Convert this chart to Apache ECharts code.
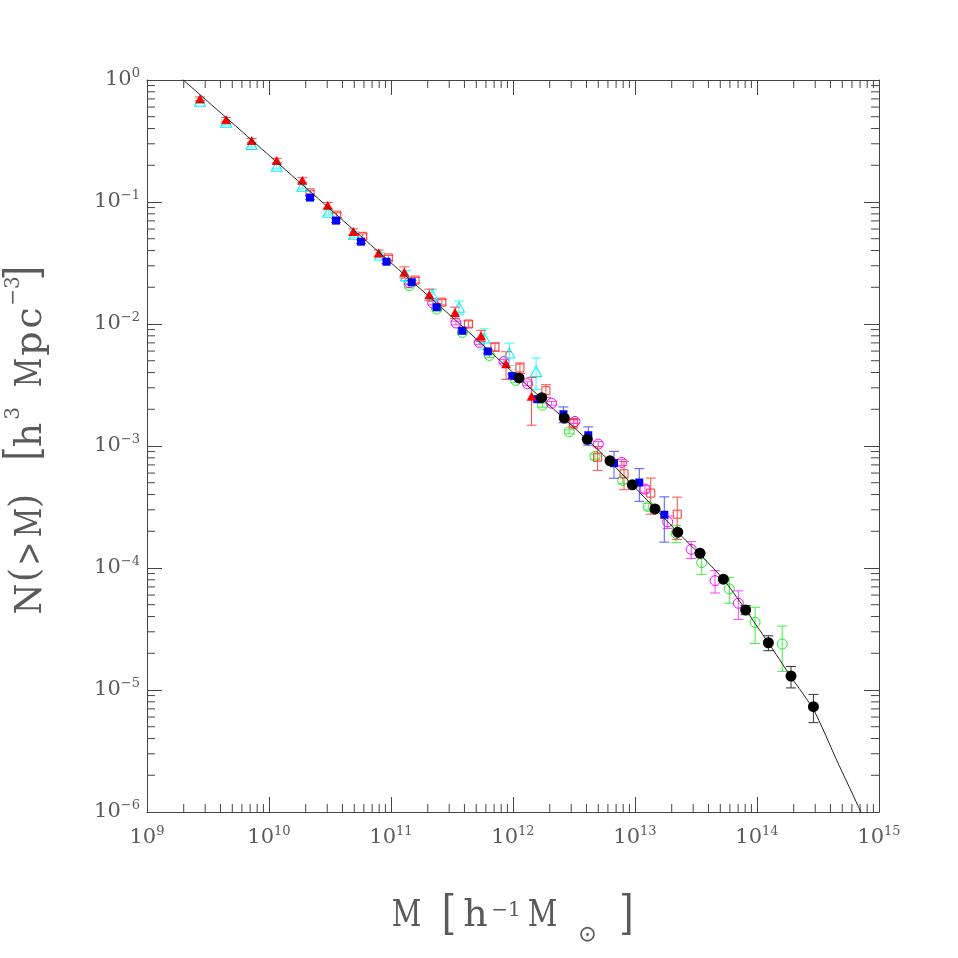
<!DOCTYPE html>
<html><head><meta charset="utf-8">
<script src="https://cdn.jsdelivr.net/npm/echarts@6/dist/echarts.min.js"></script>
<style>html,body{margin:0;padding:0;background:#fff}#c{width:958px;height:958px}</style>
</head><body><div id="c"></div>
<script>
// ---- tick labels (exponents of 10) ----
const xTickExps = [9, 10, 11, 12, 13, 14, 15];
const yTickExps = [0, -1, -2, -3, -4, -5, -6];

// ---- red filled triangles ----
const redTriM = [2.72e9, 4.45e9, 7.21e9, 1.157e10, 1.875e10, 3.03e10, 4.91e10, 7.93e10, 1.285e11, 2.06e11, 3.35e11, 5.47e11, 8.77e11, 1.42e12];
const redTriN = [0.701, 0.474, 0.319, 0.219, 0.151, 0.094, 0.0572, 0.0382, 0.0266, 0.0174, 0.0124, 0.00802, 0.00472, 0.00256];
const redTriE = [0.025, 0.018, 0.013, 0.009, 0.007, 0.005, 0.003, 0.0022, 0.0028, 0.0019, 0.00135, 0.00085, 0.0012, 0.00108];

// ---- cyan open triangles ----
const cyanTriM = [2.72e9, 4.45e9, 7.21e9, 1.157e10, 1.875e10, 3.06e10, 4.98e10, 8.13e10, 1.327e11, 2.18e11, 3.61e11, 5.82e11, 9.33e11, 1.545e12];
const cyanTriN = [0.670, 0.451, 0.296, 0.196, 0.1345, 0.0823, 0.0540, 0.0367, 0.0249, 0.0174, 0.0137, 0.00767, 0.00578, 0.00408];
const cyanTriE = [0.03, 0.02, 0.013, 0.009, 0.006, 0.004, 0.003, 0.002, 0.0025, 0.0019, 0.0017, 0.00145, 0.0012, 0.00118];

// ---- blue filled squares ----
const blueSqM = [2.17e10, 3.54e10, 5.68e10, 9.18e10, 1.479e11, 2.37e11, 3.84e11, 6.21e11, 9.86e11, 1.582e12, 2.59e12, 4.14e12, 6.73e12, 1.084e13, 1.738e13];
const blueSqN = [0.1087, 0.0704, 0.0473, 0.0324, 0.0220, 0.01374, 0.00881, 0.00596, 0.00374, 0.00242, 0.00182, 0.001225, 0.000724, 0.000502, 0.000273];
const blueSqE = [0.004, 0.0025, 0.0016, 0.0011, 0.0008, 0.0005, 0.00035, 0.0002, 0.00015, 0.00012, 0.00027, 0.00021, 0.00018, 0.00015, 0.00011];

// ---- red open squares ----
const redSqM = [2.17e10, 3.59e10, 5.86e10, 9.51e10, 1.573e11, 2.61e11, 4.31e11, 7.11e11, 1.14e12, 1.862e12, 3.12e12, 4.94e12, 8.13e12, 1.346e13, 2.22e13];
const redSqN = [0.1188, 0.0781, 0.0523, 0.0348, 0.0229, 0.0151, 0.0100, 0.00648, 0.00436, 0.00284, 0.00154, 0.000811, 0.000592, 0.000411, 0.000276];
const redSqE = [0.005, 0.0035, 0.0025, 0.0017, 0.0012, 0.0008, 0.0006, 0.0005, 0.00043, 0.00034, 0.00014, 0.00018, 0.000154, 0.000135, 0.000105];

// ---- magenta open circles ----
const magCircM = [1.406e11, 2.20e11, 3.41e11, 5.30e11, 8.43e11, 1.315e12, 2.07e12, 3.22e12, 5.00e12, 7.78e12, 1.208e13, 1.854e13, 2.89e13, 4.53e13, 7.03e13];
const magCircN = [0.0218, 0.01486, 0.01019, 0.00706, 0.00493, 0.00324, 0.00224, 0.001589, 0.001037, 0.000733, 0.000443, 0.000239, 0.0001422, 0.0000788, 0.0000514];
const magCircE = [0.0008, 0.0005, 0.00035, 0.00025, 0.00018, 0.00012, 0.00008, 0.00006, 0.00005, 0.00004, 0.00003, 0.000028, 0.0000225, 0.0000164, 0.0000135];

// ---- green open circles ----
const greenCircM = [1.406e11, 2.37e11, 3.84e11, 6.40e11, 1.052e12, 1.746e12, 2.89e12, 4.70e12, 7.93e12, 1.285e13, 2.17e13, 3.52e13, 5.93e13, 9.64e13, 1.61e14];
const greenCircN = [0.0206, 0.01327, 0.00853, 0.00552, 0.00345, 0.00216, 0.001307, 0.000820, 0.000521, 0.000319, 0.0001923, 0.0001107, 0.0000674, 0.0000359, 0.0000238];
const greenCircE = [0.0008, 0.0005, 0.0003, 0.0002, 0.00013, 0.00008, 0.00005, 0.00004, 0.00003, 0.00002, 0.000031, 0.000022, 0.000016, 0.0000118, 0.0000096];

// ---- black filled circles ----
const blackM = [1.12e12, 1.718e12, 2.63e12, 4.06e12, 6.24e12, 9.51e12, 1.459e13, 2.24e13, 3.41e13, 5.30e13, 8.07e13, 1.239e14, 1.90e14, 2.90e14];
const blackN = [0.00361, 0.00249, 0.001694, 0.001135, 0.000756, 0.000481, 0.000305, 0.0001966, 0.0001321, 0.0000809, 0.0000453, 0.0000244, 0.0000130, 0.0000073];
const blackE = [0.00008, 0.00005, 0.00004, 0.00003, 0.00002, 0.000013, 0.000009, 0.0000065, 0.0000045, 0.0000032, 0.0000039, 0.0000034, 0.0000026, 0.0000019];

// ---- fitted curve ----
const fitM = [1.862e9, 1.795e10, 6.32e10, 3.35e11, 1.12e12, 5.16e12, 2.24e13, 5.30e13, 1.239e14, 1.90e14, 2.92e14, 4.53e14, 7.10e14, 7.82e14];
const fitN = [1.058, 0.1443, 0.0476, 0.01084, 0.00361, 0.0009, 0.0001966, 0.0000809, 0.0000244, 0.0000128, 0.00000686, 0.00000262, 1.0e-6, 7.8e-7];

const FONT = 'DejaVu Serif';
const TXT = '#5a5a5a';
const AX = '#444';

const zip3 = (a, b, c) => a.map((v, i) => [v, b[i], c[i]]);
const zip2 = (a, b) => a.map((v, i) => [v, b[i]]);

function expLabel(exps) {
  return function (v) {
    const e = Math.round(Math.log10(v));
    if (exps.indexOf(e) < 0) return '';
    return '{b|10}{s|' + (e < 0 ? '\u2212' + (-e) : e) + '}';
  };
}
const tickRich = {
  b: { fontFamily: FONT, fontSize: 21, color: TXT, lineHeight: 26 },
  s: { fontFamily: FONT, fontSize: 13, color: TXT, lineHeight: 14, verticalAlign: 'top' }
};

function errSeries(data, color, z) {
  return {
    type: 'custom', data: data, z: z, silent: true, clip: false,
    encode: { x: 0, y: 1 },
    renderItem: function (params, api) {
      const x = api.value(0), y = api.value(1), s = api.value(2);
      const lo = api.coord([x, y - s]);
      const hi = api.coord([x, y + s]);
      const px = lo[0], w = 5;
      const st = { stroke: color, lineWidth: 1 };
      return {
        type: 'group', children: [
          { type: 'line', shape: { x1: px, y1: lo[1], x2: px, y2: hi[1] }, style: st },
          { type: 'line', shape: { x1: px - w, y1: lo[1], x2: px + w, y2: lo[1] }, style: st },
          { type: 'line', shape: { x1: px - w, y1: hi[1], x2: px + w, y2: hi[1] }, style: st }
        ]
      };
    }
  };
}
function markSeries(m, n, symbol, size, fill, border, z) {
  return {
    type: 'scatter', data: zip2(m, n), symbol: symbol, symbolSize: size, z: z, silent: true,
    itemStyle: { color: fill, borderColor: border, borderWidth: border ? 1 : 0, opacity: 1 }
  };
}

// minor tick positions (axis decoration)
const xMinor = [], yMinor = [];
for (let k = 9; k < 15; k++) for (let m = 2; m < 10; m++) xMinor.push([m * Math.pow(10, k), 1e-3]);
for (let k = -6; k < 0; k++) for (let m = 2; m < 10; m++) yMinor.push([1e12, m * Math.pow(10, k)]);

const minorX = {
  type: 'custom', data: xMinor, silent: true, clip: false, z: 1, encode: { x: 0, y: 1 },
  renderItem: function (params, api) {
    const cs = params.coordSys;
    const p = api.coord([api.value(0), api.value(1)])[0];
    const yb = cs.y + cs.height, yt = cs.y;
    const st = { stroke: AX, lineWidth: 1 };
    return { type: 'group', children: [
      { type: 'line', shape: { x1: p, y1: yb, x2: p, y2: yb - 8 }, style: st },
      { type: 'line', shape: { x1: p, y1: yt, x2: p, y2: yt + 8 }, style: st }
    ] };
  }
};
const minorY = {
  type: 'custom', data: yMinor, silent: true, clip: false, z: 1, encode: { x: 0, y: 1 },
  renderItem: function (params, api) {
    const cs = params.coordSys;
    const p = api.coord([api.value(0), api.value(1)])[1];
    const xl = cs.x, xr = cs.x + cs.width;
    const st = { stroke: AX, lineWidth: 1 };
    return { type: 'group', children: [
      { type: 'line', shape: { x1: xl, y1: p, x2: xl + 8, y2: p }, style: st },
      { type: 'line', shape: { x1: xr, y1: p, x2: xr - 8, y2: p }, style: st }
    ] };
  }
};

const axisCommon = {
  type: 'log', logBase: 10, splitNumber: 6,
  axisLine: { show: true, onZero: false, lineStyle: { color: AX, width: 1 } },
  axisTick: { show: true, inside: true, length: 15, lineStyle: { color: AX, width: 1 } },
  splitLine: { show: false }, minorTick: { show: false }, minorSplitLine: { show: false }
};

// ---- axis titles, one text piece per glyph group ----
function piece(text, x, y, size, sx, rot, family) {
  return {
    type: 'text', x: x, y: y, rotation: rot || 0, scaleX: sx || 1, silent: true,
    style: { text: text, fontFamily: family || FONT, fontSize: size, fill: TXT,
             textAlign: 'center', textVerticalAlign: 'middle' }
  };
}
const R = Math.PI / 2;
const titleGraphics = [
  // x title: M [h^-1 M_sun ]
  piece('M', 406.5, 916, 38, 0.76),
  piece('[', 449, 917, 46, 0.8),
  piece('h', 475.5, 916, 38, 1.0),
  piece('\u22121', 506, 911, 20, 1.0),
  piece('M', 542.5, 916, 38, 0.76),
  piece('\u2299', 587.5, 935, 22, 1.0, 0, 'DejaVu Sans'),
  piece(']', 626.5, 917, 46, 0.8),
  // y title: N(>M) [h^3 Mpc^-3 ]
  piece('N', 31, 599, 38, 0.93, R),
  piece('(', 27, 575, 40, 0.9, R),
  piece('>', 31, 553.5, 38, 0.75, R),
  piece('M', 31, 522.5, 38, 0.76, R),
  piece(')', 27, 501, 40, 0.9, R),
  piece('[', 26, 453.5, 46, 0.8, R),
  piece('h', 31, 435, 38, 1.0, R),
  piece('3', 13.5, 413.5, 20, 1.0, R),
  piece('M', 31, 372.5, 38, 0.76, R),
  piece('p', 31, 343.5, 38, 1.0, R),
  piece('c', 31, 318, 38, 1.0, R),
  piece('\u22123', 13.5, 291, 20, 1.0, R),
  piece(']', 26, 273, 46, 0.8, R)
];

const option = {
  animation: false,
  backgroundColor: '#fff',
  grid: { left: 147, top: 80, right: 79, bottom: 146, containLabel: false },
  graphic: titleGraphics,
  xAxis: [
    Object.assign({}, axisCommon, {
      min: 1e9, max: 1e15, position: 'bottom',
      axisLabel: { formatter: expLabel(xTickExps), rich: tickRich, margin: 13, showMinLabel: true, showMaxLabel: true }
    }),
    Object.assign({}, axisCommon, {
      min: 1e9, max: 1e15, position: 'top', axisLabel: { show: false }
    })
  ],
  yAxis: [
    Object.assign({}, axisCommon, {
      min: 1e-6, max: 1, position: 'left',
      axisLabel: { formatter: expLabel(yTickExps), rich: tickRich, margin: 7, showMinLabel: true, showMaxLabel: true }
    }),
    Object.assign({}, axisCommon, {
      min: 1e-6, max: 1, position: 'right', axisLabel: { show: false }
    })
  ],
  series: [
    minorX, minorY,
    errSeries(zip3(greenCircM, greenCircN, greenCircE), '#40f040', 10),
    markSeries(greenCircM, greenCircN, 'circle', 10, 'rgba(255,255,255,0)', '#22ee22', 10),
    errSeries(zip3(magCircM, magCircN, magCircE), '#ff40ff', 11),
    markSeries(magCircM, magCircN, 'circle', 10, 'rgba(255,255,255,0)', '#ff00ff', 11),
    errSeries(zip3(redSqM, redSqN, redSqE), '#ff4d4d', 12),
    markSeries(redSqM, redSqN, 'rect', 8, 'rgba(255,255,255,0)', '#ff3030', 12),
    errSeries(zip3(cyanTriM, cyanTriN, cyanTriE), '#30ffff', 13),
    markSeries(cyanTriM, cyanTriN, 'triangle', [11, 10], 'rgba(255,255,255,0)', '#00f0f0', 13),
    errSeries(zip3(blueSqM, blueSqN, blueSqE), '#5555ff', 14),
    markSeries(blueSqM, blueSqN, 'rect', 8, '#0000ff', null, 14),
    errSeries(zip3(redTriM, redTriN, redTriE), '#ff4d4d', 15),
    markSeries(redTriM, redTriN, 'triangle', [10, 9], '#ff0000', null, 15),
    {
      type: 'line', data: zip2(fitM, fitN), showSymbol: false, smooth: 0.2, z: 16, silent: true,
      lineStyle: { color: '#222', width: 1 }, clip: true
    },
    errSeries(zip3(blackM, blackN, blackE), '#333', 17),
    markSeries(blackM, blackN, 'circle', 11, '#000', null, 17)
  ]
};
const chart = echarts.init(document.getElementById('c'), null, { renderer: 'canvas' });
chart.setOption(option);
</script>
</body></html>
